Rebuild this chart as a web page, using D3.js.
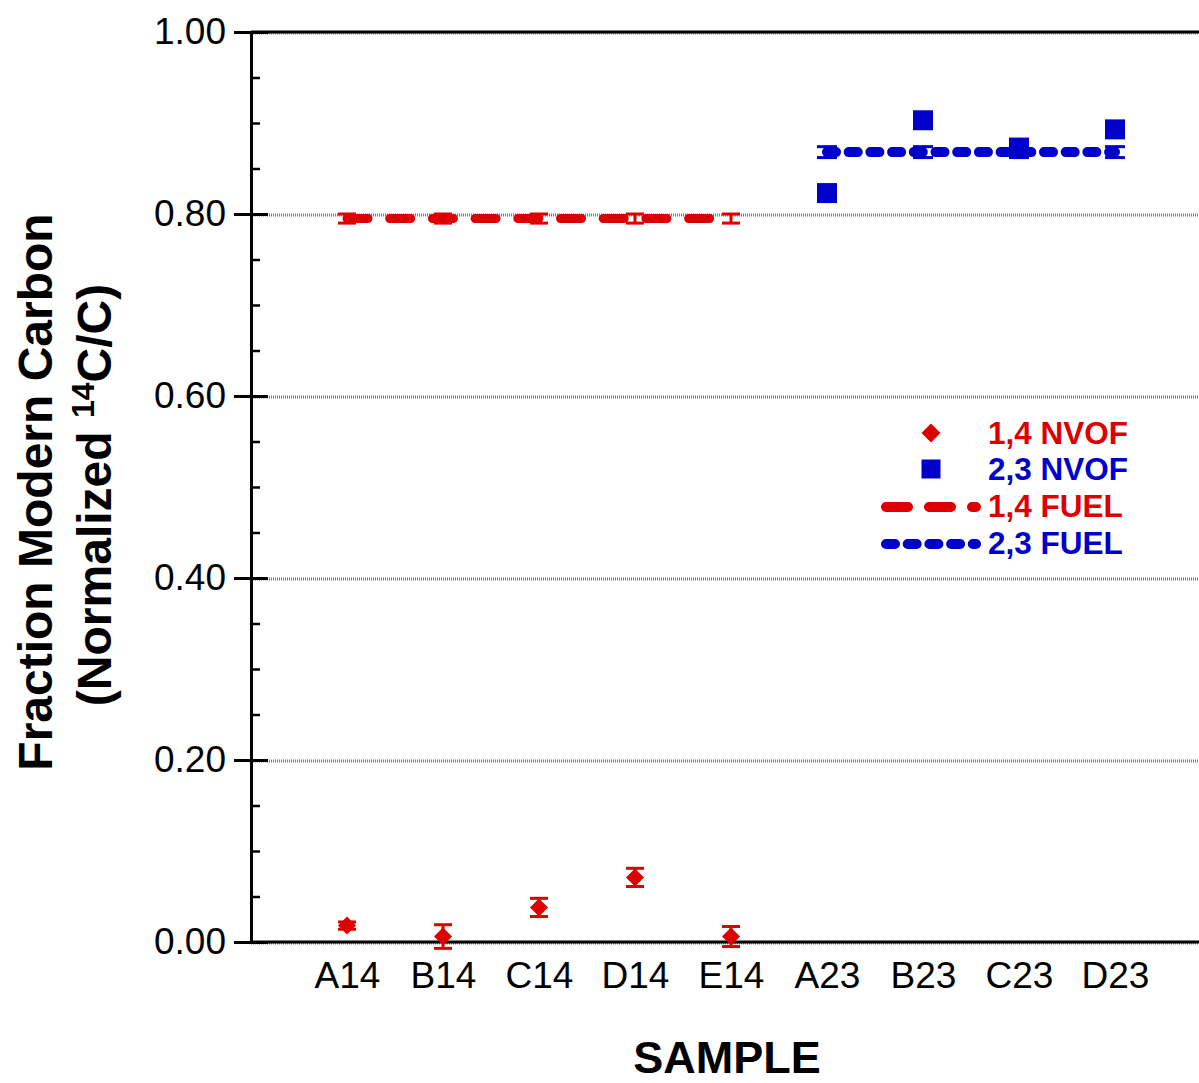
<!DOCTYPE html>
<html>
<head>
<meta charset="utf-8">
<script src="https://cdn.jsdelivr.net/npm/d3@7"></script>
<style>
  body { margin: 0; background: #fff; }
  svg { display: block; font-family: "Liberation Sans", Arial, sans-serif; }
</style>
</head>
<body>
<div id="chart"></div>
<script>
// Data
var samples = ["A14", "B14", "C14", "D14", "E14", "A23", "B23", "C23", "D23"];
var sampleIndex = [1, 2, 3, 4, 5, 6, 7, 8, 9];

// 1,4 NVOF (red diamonds)
var nvof14 = [0.018, 0.006, 0.038, 0.071, 0.006];
var nvof14Err = [0.004, 0.013, 0.010, 0.010, 0.011];
var nvof14Idx = [1, 2, 3, 4, 5];

// 2,3 NVOF (blue squares)
var nvof23 = [0.823, 0.903, 0.873, 0.893];
var nvof23Err = [0.002, 0.004, 0.002, 0.002];
var nvof23Idx = [6, 7, 8, 9];

// fuel references
var fuel14 = [0.795, 0.795, 0.795, 0.795, 0.795];
var fuel14Err = [0.005, 0.005, 0.005, 0.005, 0.005];
var fuel23 = [0.868, 0.868, 0.868, 0.868];
var fuel23Err = [0.006, 0.006, 0.006, 0.006];

var yTicks = [0, 0.2, 0.4, 0.6, 0.8, 1.0];
var yMinor = [0.05, 0.1, 0.15, 0.25, 0.3, 0.35, 0.45, 0.5, 0.55, 0.65, 0.7, 0.75, 0.85, 0.9, 0.95];

var red = "#dd0000";
var blue = "#0000cc";

//SVG size
var svgWidth = 1199;
var svgHeight = 1083;

var svg = d3.select("#chart")
  .append("svg")
  .attr("width", svgWidth)
  .attr("height", svgHeight);

// scales
var x = d3.scaleLinear().domain([0, 10]).range([251, 1211]);
var y = d3.scaleLinear().domain([0, 1]).range([942, 32]);

// gridlines
svg.append("g").selectAll("line")
  .data(yTicks)
  .enter()
  .append("line")
  .attr("x1", x(0))
  .attr("x2", svgWidth)
  .attr("y1", d => y(d) + 1)
  .attr("y2", d => y(d) + 1)
  .attr("stroke", "#7a7a7a")
  .attr("stroke-width", 3)
  .attr("stroke-dasharray", "1,1");

// top frame line
svg.append("line")
  .attr("x1", x(0)).attr("x2", svgWidth)
  .attr("y1", y(1)).attr("y2", y(1))
  .attr("stroke", "#000").attr("stroke-width", 3);

// Left axis with labels
var yAxisLeft = d3.axisLeft(y)
  .tickValues(yTicks)
  .tickFormat(d3.format(".2f"))
  .tickSize(17)
  .tickPadding(8);

var yAxisG = svg.append("g")
  .attr("transform", `translate(${x(0)},0)`)
  .call(yAxisLeft);

yAxisG.select(".domain").attr("stroke-width", 3);
yAxisG.selectAll(".tick line").attr("stroke-width", 3);
yAxisG.selectAll(".tick text")
  .attr("font-size", 37)
  .attr("font-family", "Liberation Sans, Arial, sans-serif")
  .attr("fill", "#000");

// inner major ticks
var yAxisInner = d3.axisRight(y).tickValues(yTicks).tickSize(17).tickFormat("");
var innerG = svg.append("g")
  .attr("transform", `translate(${x(0)},0)`)
  .call(yAxisInner);
innerG.select(".domain").remove();
innerG.selectAll(".tick line").attr("stroke-width", 3);

// minor ticks
var yAxisMinor = d3.axisRight(y).tickValues(yMinor).tickSize(9).tickFormat("");
var minorG = svg.append("g")
  .attr("transform", `translate(${x(0)},0)`)
  .call(yAxisMinor);
minorG.select(".domain").remove();
minorG.selectAll(".tick line").attr("stroke-width", 2.5);

// bottom axis
var xAxis = d3.axisBottom(x)
  .tickValues(sampleIndex)
  .tickFormat((d, i) => samples[i])
  .tickSize(0)
  .tickPadding(20);

var xAxisG = svg.append("g")
  .attr("transform", `translate(0,${y(0)})`)
  .call(xAxis);
xAxisG.select(".domain").attr("stroke-width", 3).attr("d", `M${x(0)},0H${svgWidth}`);
xAxisG.selectAll(".tick text")
  .attr("font-size", 37)
  .attr("font-family", "Liberation Sans, Arial, sans-serif")
  .attr("fill", "#000");

// error bar helper
function errorBars(idx, vals, errs, color, capW) {
  var g = svg.append("g");
  idx.forEach(function(d, i) {
    var cx = x(d);
    var lo = y(vals[i] - errs[i]);
    var hi = y(vals[i] + errs[i]);
    g.append("line").attr("x1", cx).attr("x2", cx).attr("y1", lo).attr("y2", hi)
      .attr("stroke", color).attr("stroke-width", 3);
    [lo, hi].forEach(function(yy) {
      g.append("line").attr("x1", cx - capW / 2).attr("x2", cx + capW / 2)
        .attr("y1", yy).attr("y2", yy)
        .attr("stroke", color).attr("stroke-width", 3);
    });
  });
}

// fuel lines
var line = d3.line().x(d => x(d[0])).y(d => y(d[1]));

errorBars(nvof14Idx, fuel14, fuel14Err, red, 18);
svg.append("path")
  .datum(nvof14Idx.map((d, i) => [d, fuel14[i]]))
  .attr("d", line)
  .attr("fill", "none")
  .attr("stroke", red)
  .attr("stroke-width", 9)
  .attr("stroke-linecap", "round")
  .attr("stroke-dasharray", "21,21.7");

errorBars(nvof23Idx, fuel23, fuel23Err, blue, 20);
svg.append("path")
  .datum(nvof23Idx.map((d, i) => [d, fuel23[i]]))
  .attr("d", line)
  .attr("fill", "none")
  .attr("stroke", blue)
  .attr("stroke-width", 10)
  .attr("stroke-linecap", "round")
  .attr("stroke-dasharray", "9,12.7");

// NVOF markers
errorBars(nvof14Idx, nvof14, nvof14Err, red, 18);
var diamond = d3.symbol().type(d3.symbolSquare).size(162);
svg.append("g").selectAll("path")
  .data(nvof14)
  .enter()
  .append("path")
  .attr("d", diamond)
  .attr("transform", (d, i) => `translate(${x(nvof14Idx[i])},${y(d)}) rotate(45)`)
  .attr("fill", red);

errorBars(nvof23Idx, nvof23, nvof23Err, blue, 20);
var square = d3.symbol().type(d3.symbolSquare).size(400);
svg.append("g").selectAll("path")
  .data(nvof23)
  .enter()
  .append("path")
  .attr("d", square)
  .attr("transform", (d, i) => `translate(${x(nvof23Idx[i])},${y(d)})`)
  .attr("fill", blue);

// legend
var legend = svg.append("g");
var legendItems = [
  { label: "1,4 NVOF", color: red, kind: "diamond" },
  { label: "2,3 NVOF", color: blue, kind: "square" },
  { label: "1,4 FUEL", color: red, kind: "dash" },
  { label: "2,3 FUEL", color: blue, kind: "dot" }
];
var legendY = [433, 469, 506, 543];

legendItems.forEach(function(item, i) {
  var ly = legendY[i];
  if (item.kind === "diamond") {
    legend.append("path")
      .attr("d", d3.symbol().type(d3.symbolSquare).size(180))
      .attr("transform", `translate(931,${ly}) rotate(45)`)
      .attr("fill", item.color);
  } else if (item.kind === "square") {
    legend.append("path")
      .attr("d", d3.symbol().type(d3.symbolSquare).size(361))
      .attr("transform", `translate(931,${ly})`)
      .attr("fill", item.color);
  } else {
    legend.append("line")
      .attr("x1", 886).attr("x2", 976)
      .attr("y1", ly + 1).attr("y2", ly + 1)
      .attr("stroke", item.color)
      .attr("stroke-width", 10)
      .attr("stroke-linecap", "round")
      .attr("stroke-dasharray", item.kind === "dash" ? "22,21" : "9,12.7");
  }
  legend.append("text")
    .attr("x", 988)
    .attr("y", ly + 11)
    .attr("font-size", 31.5)
    .attr("font-weight", "bold")
    .attr("fill", item.color)
    .text(item.label);
});

// axis titles
svg.append("text")
  .attr("transform", "translate(52,492) rotate(-90)")
  .attr("text-anchor", "middle")
  .attr("font-size", 48)
  .attr("font-weight", "bold")
  .text("Fraction Modern Carbon");

var yTitle2 = svg.append("text")
  .attr("transform", "translate(111,495) rotate(-90)")
  .attr("text-anchor", "middle")
  .attr("font-size", 48)
  .attr("font-weight", "bold");
yTitle2.append("tspan").text("(Normalized ");
yTitle2.append("tspan").attr("font-size", 32).attr("dy", -17).text("14");
yTitle2.append("tspan").attr("dy", 17).text("C/C)");

svg.append("text")
  .attr("x", 727)
  .attr("y", 1073)
  .attr("text-anchor", "middle")
  .attr("font-size", 45)
  .attr("font-weight", "bold")
  .text("SAMPLE");
</script>
</body>
</html>
